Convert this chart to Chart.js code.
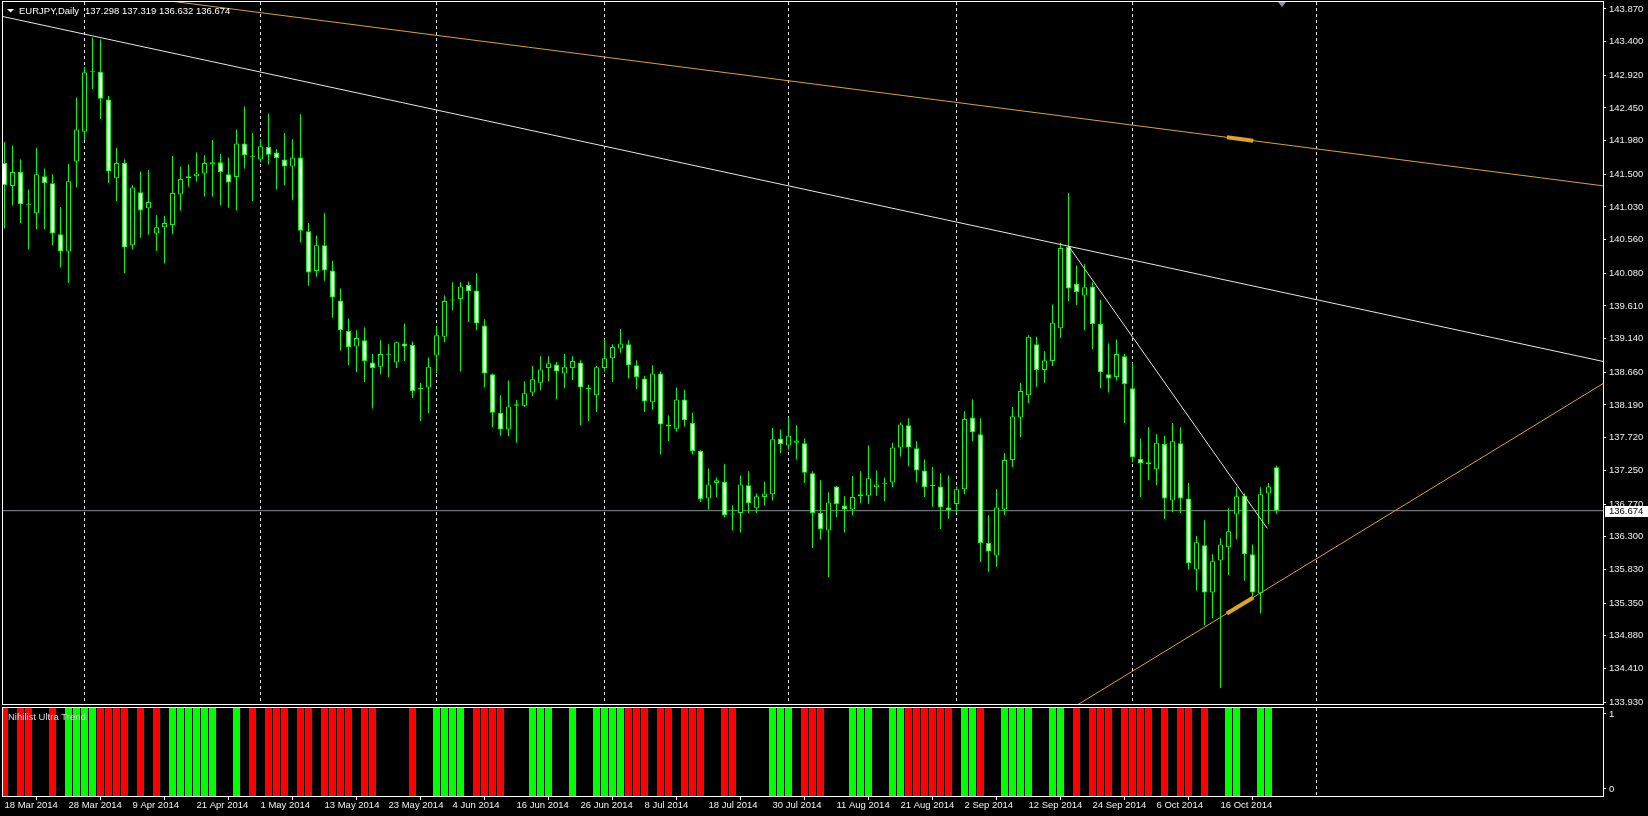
<!DOCTYPE html>
<html>
<head>
<meta charset="utf-8">
<title>EURJPY,Daily</title>
<script src="https://cdn.jsdelivr.net/npm/chart.js@4.4.1/dist/chart.umd.min.js"></script>
<style>
  html, body { margin: 0; padding: 0; background: #000; overflow: hidden; }
  #wrap { position: relative; width: 1648px; height: 816px; background: #000; }
  #main { position: absolute; left: 0; top: 0; }
  #pane { position: absolute; left: 0; top: 706px; }
</style>
</head>
<body>
<div id="wrap">
  <canvas id="main" width="1648" height="706"></canvas>
  <canvas id="pane" width="1648" height="110"></canvas>
</div>
<script>
const symbol = "EURJPY";
const period = "Daily";
const paneName = "Nihilist Ultra Trend";

// daily bars, first one is 18 Mar 2014
const opens = [
  141.66,141.33,141.53,141.07,140.94,141.47,141.37,140.64,140.39,141.68,
  142.11,142.98,142.97,142.57,141.44,141.66,140.48,141.24,141.01,140.65,
  140.74,140.77,141.21,141.44,141.47,141.51,141.64,141.67,141.50,141.46,
  141.94,141.76,141.71,141.89,141.81,141.71,141.61,141.74,140.68,140.11,
  140.48,140.12,139.69,139.25,139.03,139.12,138.80,138.74,138.91,138.80,
  139.07,139.05,138.42,138.44,138.90,139.17,139.69,139.71,139.91,139.83,
  139.33,138.63,138.08,137.84,138.18,138.18,138.37,138.51,138.72,138.77,
  138.64,138.72,138.80,138.43,138.33,138.72,138.86,139.00,139.06,138.76,
  138.57,138.23,138.64,137.91,137.85,138.27,137.93,137.53,136.85,137.07,
  137.09,136.63,136.64,137.04,136.71,136.87,136.91,137.71,137.61,137.65,
  137.64,137.21,136.64,136.39,137.02,136.75,136.69,136.88,136.89,137.01,
  137.06,137.08,137.58,137.90,137.57,137.25,137.03,137.02,136.72,136.77,
  136.98,138.01,137.77,136.21,136.03,136.69,137.40,138.01,138.33,139.06,
  138.69,138.82,139.29,140.46,139.93,139.76,139.89,139.35,138.63,138.59,
  138.89,138.43,137.42,137.34,137.27,137.63,136.82,137.64,136.85,135.83,
  136.18,135.50,135.96,136.15,136.62,136.89,136.05,135.49,136.92,137.298
];
const highs = [
  141.96,141.91,141.71,141.28,141.88,141.58,141.50,141.03,141.65,142.60,
  143.04,143.46,143.43,142.62,141.88,141.71,141.34,141.54,141.56,140.91,
  140.90,141.76,141.61,141.64,141.81,141.77,141.99,141.79,141.74,142.14,
  142.47,142.09,142.00,142.37,141.86,142.09,142.00,142.36,140.80,140.62,
  140.94,140.26,139.86,139.43,139.26,139.30,138.92,139.12,139.06,139.10,
  139.36,139.10,138.51,138.87,139.32,139.76,139.95,139.95,139.96,140.08,
  139.42,138.64,138.33,138.54,138.26,138.53,138.75,138.89,138.89,138.81,
  138.92,138.89,138.83,138.48,138.75,139.13,139.06,139.28,139.12,138.83,
  138.61,138.76,138.67,138.04,138.44,138.41,138.08,137.54,137.28,137.15,
  137.34,136.75,137.18,137.24,136.92,137.09,137.86,137.84,138.01,137.90,
  137.71,137.24,137.11,136.94,137.03,136.88,137.17,137.24,137.61,137.25,
  137.15,137.65,137.94,138.00,137.67,137.41,137.30,137.21,137.18,137.02,
  138.10,138.27,138.00,136.61,136.98,137.50,138.16,138.51,139.19,139.17,
  138.96,139.63,140.52,141.23,140.19,140.21,139.95,139.70,139.07,139.13,
  138.92,138.79,137.71,137.87,137.77,137.75,137.93,137.87,137.07,136.31,
  136.54,136.05,136.28,136.71,137.01,136.92,136.19,137.01,137.07,137.319
];
const lows = [
  140.72,141.05,140.80,140.42,140.71,140.71,140.48,140.16,139.94,141.31,
  141.99,142.72,142.29,141.37,141.11,140.08,140.42,140.59,140.63,140.40,
  140.22,140.64,140.98,141.32,141.39,141.18,141.18,141.05,141.02,140.98,
  141.58,141.11,141.67,141.64,141.28,141.34,141.13,140.52,139.90,140.03,
  139.97,139.44,138.97,138.76,138.66,138.52,138.14,138.63,138.59,138.72,
  138.82,138.29,137.96,138.07,138.64,139.09,139.55,138.67,139.38,139.26,
  138.44,137.87,137.75,137.74,137.65,138.16,138.32,138.40,138.53,138.27,
  138.43,138.55,137.90,137.96,138.09,138.67,138.52,138.94,138.57,138.42,
  138.09,138.12,137.48,137.67,137.81,137.88,137.48,136.80,136.69,136.87,
  136.58,136.39,136.36,136.64,136.64,136.75,136.82,137.50,137.55,137.41,
  137.07,136.14,136.26,135.72,136.58,136.36,136.61,136.78,136.77,136.89,
  136.81,137.01,137.45,137.31,137.08,136.87,136.73,136.41,136.56,136.64,
  136.91,137.67,135.94,135.80,135.87,136.61,137.30,137.73,138.22,138.45,
  138.51,138.75,139.15,139.68,139.62,139.26,138.99,138.43,138.37,138.54,
  137.93,137.37,136.87,137.11,137.04,136.55,136.65,136.64,135.83,135.53,
  135.03,135.13,134.13,135.75,136.26,135.67,135.45,135.20,136.48,136.632
];
const closes = [
  141.34,141.53,141.07,141.06,141.50,141.37,140.65,140.39,141.40,142.14,
  142.96,142.97,142.58,141.54,141.66,140.45,141.31,140.98,141.10,140.74,
  140.80,141.23,141.43,141.47,141.51,141.66,141.67,141.53,141.38,141.94,
  141.77,141.75,141.90,141.78,141.73,141.61,141.74,140.69,140.09,140.48,
  140.12,139.73,139.26,139.02,139.15,138.82,138.72,138.92,138.92,139.09,
  139.03,138.39,138.42,138.74,139.19,139.68,139.70,139.89,139.82,139.36,
  138.64,138.08,137.84,138.17,138.20,138.36,138.56,138.70,138.79,138.67,
  138.74,138.82,138.44,138.42,138.73,138.86,139.02,139.07,138.76,138.59,
  138.24,138.64,137.91,137.88,138.27,137.97,137.53,136.84,137.05,137.11,
  136.61,136.62,137.05,136.78,136.88,136.92,137.70,137.63,137.75,137.68,
  137.22,136.64,136.41,136.79,136.77,136.69,136.87,136.91,137.14,137.05,
  137.07,137.58,137.91,137.58,137.25,137.01,137.03,136.72,136.68,136.98,
  137.99,137.80,136.21,136.09,136.72,137.40,138.03,138.39,139.17,138.69,
  138.83,139.37,140.44,139.86,139.81,139.88,139.35,138.66,138.57,138.92,
  138.49,137.44,137.35,137.37,137.65,136.85,137.67,136.85,135.92,136.22,
  135.50,135.95,136.19,136.38,136.88,136.05,135.50,136.91,137.02,136.674
];
// indicator state per bar: 1 up, -1 down, 0 flat
const trend = [
  -1,0,-1,-1,0,0,-1,0,1,1,
  1,1,-1,-1,-1,-1,0,-1,0,-1,
  0,1,1,1,1,1,1,0,0,1,
  0,-1,0,-1,-1,-1,0,-1,-1,0,
  -1,-1,-1,-1,0,-1,-1,0,0,0,
  0,-1,0,0,1,1,1,1,0,-1,
  -1,-1,-1,0,0,0,1,1,1,0,
  0,1,0,0,1,1,1,1,-1,-1,
  -1,0,-1,-1,0,-1,-1,-1,0,0,
  -1,-1,0,0,0,0,1,1,1,0,
  -1,-1,-1,0,0,0,1,1,1,0,
  0,1,1,-1,-1,-1,-1,-1,-1,0,
  1,1,-1,0,0,1,1,1,1,0,
  0,1,1,0,-1,0,-1,-1,-1,0,
  -1,-1,-1,-1,0,-1,0,-1,-1,0,
  -1,0,0,1,1,0,0,1,1,0
];
const priceTicks = [143.87,143.40,142.92,142.45,141.98,141.50,141.03,140.56,140.08,139.61,139.14,
  138.66,138.19,137.72,137.25,136.77,136.30,135.83,135.35,134.88,134.41,133.93];
const paneTicks = [1, 0];

// trend lines as [bar, price] pairs
const resistance = [[-1, 143.78], [200, 138.81]];
const upperChannel = [[0, 144.29], [200, 141.33]];
const support = [[120, 132.90], [200, 138.51]];
const breakLine = [[133, 140.47], [157.85, 136.42]];
const upperMark = [[152.8, 142.03], [156.1, 141.98]];
const lowerMark = [[152.8, 135.20], [156.1, 135.43]];

const X_MIN = -0.1875, X_MAX = 199.8125;
const Y_MIN = 133.902, Y_MAX = 143.969;
const PANE_LO = -0.094, PANE_HI = 1.08;
const FONT = { family: "'Liberation Sans', Arial, sans-serif", size: 9.5 };
const TEXT = '#f0f0f0';
const LIME = '#00ff00';
const GOLD = '#daa520';

const monthNames = ['Jan','Feb','Mar','Apr','May','Jun','Jul','Aug','Sep','Oct','Nov','Dec'];
const dates = [];
let d = new Date(Date.UTC(2014, 2, 18));
while (dates.length < 200) {
  const wd = d.getUTCDay();
  if (wd !== 0 && wd !== 6) dates.push(new Date(d));
  d.setUTCDate(d.getUTCDate() + 1);
}
const fmt = dt => dt.getUTCDate() + ' ' + monthNames[dt.getUTCMonth()] + ' ' + dt.getUTCFullYear();
const lastBar = closes.length - 1;

const monthStarts = [];
for (let i = 1; i < dates.length; i++) {
  if (dates[i].getUTCMonth() !== dates[i - 1].getUTCMonth()) {
    monthStarts.push(i);
    if (i > lastBar) break;
  }
}
const labelBars = [];
for (let i = 0; i <= lastBar; i += 8) labelBars.push(i);

const pts = arr => arr.map(p => ({ x: p[0], y: p[1] }));
const line = (arr, color, width, order) => ({
  type: 'line', data: pts(arr), borderColor: color, borderWidth: width,
  pointRadius: 0, tension: 0, order: order
});

const monthGrid = {
  id: 'monthGrid',
  beforeDatasetsDraw(chart) {
    const { ctx, chartArea: a, scales: { x } } = chart;
    ctx.save();
    ctx.strokeStyle = '#e6e6e6';
    ctx.lineWidth = 1;
    ctx.setLineDash([3, 3]);
    monthStarts.forEach(i => {
      const px = Math.floor(x.getPixelForValue(i)) + 0.5;
      ctx.beginPath();
      ctx.moveTo(px, a.top);
      ctx.lineTo(px, a.bottom);
      ctx.stroke();
    });
    ctx.restore();
  }
};

const frame = {
  id: 'frame',
  afterDraw(chart) {
    const { ctx, chartArea: a } = chart;
    ctx.save();
    ctx.strokeStyle = '#ffffff';
    ctx.lineWidth = 1;
    ctx.strokeRect(a.left - 0.5, a.top - 0.5, a.right - a.left + 1, a.bottom - a.top + 1);
    ctx.restore();
  }
};

const header = {
  id: 'header',
  afterDraw(chart) {
    const { ctx, chartArea: a, scales: { x, y } } = chart;
    ctx.save();
    ctx.font = "9.5px 'Liberation Sans', Arial, sans-serif";
    ctx.fillStyle = '#ffffff';
    ctx.beginPath();
    ctx.moveTo(7, 9); ctx.lineTo(14, 9); ctx.lineTo(10.5, 12.5); ctx.closePath();
    ctx.fill();
    const name = symbol + ',' + period;
    ctx.textBaseline = 'alphabetic';
    ctx.fillText(name, 19, 14);
    const ohlc = [opens[lastBar], highs[lastBar], lows[lastBar], closes[lastBar]]
      .map(v => v.toFixed(3)).join(' ');
    ctx.fillText(ohlc, 19 + ctx.measureText(name).width + 6, 14);

    // chart shift marker
    const sx = x.getPixelForValue(lastBar) + 5.5;
    ctx.fillStyle = '#8d96a0';
    ctx.beginPath();
    ctx.moveTo(sx - 4, a.top); ctx.lineTo(sx + 4, a.top); ctx.lineTo(sx, a.top + 5); ctx.closePath();
    ctx.fill();

    // bid label
    const py = Math.round(y.getPixelForValue(closes[lastBar]));
    ctx.fillStyle = '#ffffff';
    ctx.fillRect(a.right + 2, py - 5, 43, 11);
    ctx.fillStyle = '#000000';
    ctx.textBaseline = 'middle';
    ctx.fillText(closes[lastBar].toFixed(3), a.right + 6, py + 0.5);
    ctx.restore();
  }
};

const paneTitle = {
  id: 'paneTitle',
  afterDraw(chart) {
    const { ctx } = chart;
    ctx.save();
    ctx.font = "9.5px 'Liberation Sans', Arial, sans-serif";
    ctx.fillStyle = '#dcdcdc';
    ctx.fillText(paneName, 8, 14);
    ctx.restore();
  }
};

const rightAxis = (min, max, ticks, fmtTick) => ({
  type: 'linear', position: 'right', min: min, max: max,
  afterBuildTicks: s => { s.ticks = ticks.map(v => ({ value: v })); },
  afterFit: s => { s.width = 45; s.paddingTop = 0; s.paddingBottom = 0; },
  ticks: { autoSkip: false, color: TEXT, font: FONT, padding: 3, callback: fmtTick },
  grid: { drawOnChartArea: false, drawTicks: true, tickLength: 3, color: '#ffffff' },
  border: { display: false }
});

const common = {
  responsive: false,
  animation: false,
  devicePixelRatio: 1,
  events: [],
  plugins: { legend: { display: false }, tooltip: { enabled: false } }
};

new Chart(document.getElementById('main'), {
  type: 'bar',
  data: {
    datasets: [
      line(upperMark, GOLD, 4, -3),
      line(lowerMark, GOLD, 4, -3),
      line(resistance, '#e6e6e6', 1, -2),
      line(breakLine, '#e6e6e6', 1, -2),
      line(upperChannel, GOLD, 1, -2),
      line(support, GOLD, 1, -2),
      {
        data: closes.map((c, i) => ({ x: i, y: [opens[i], c] })),
        backgroundColor: closes.map((c, i) => c < opens[i] ? '#ffffff' : '#000000'),
        borderColor: LIME, borderWidth: 1, borderSkipped: false,
        barThickness: 5, minBarLength: 1, inflateAmount: 0, grouped: false, order: 1
      },
      {
        data: lows.map((l, i) => ({ x: i, y: [l, highs[i]] })),
        backgroundColor: LIME, borderWidth: 0,
        barThickness: 1, inflateAmount: 0, grouped: false, order: 2
      },
      line([[X_MIN, closes[lastBar]], [X_MAX, closes[lastBar]]], '#8a9099', 1, 3)
    ]
  },
  options: Object.assign({}, common, {
    layout: { padding: { left: 3, top: 2, right: 0, bottom: 2 } },
    scales: {
      x: { type: 'linear', min: X_MIN, max: X_MAX, offset: false, display: false },
      y: rightAxis(Y_MIN, Y_MAX, priceTicks, v => v.toFixed(3))
    }
  }),
  plugins: [monthGrid, frame, header]
});

new Chart(document.getElementById('pane'), {
  type: 'bar',
  data: {
    datasets: [{
      data: trend.map((t, i) => ({ x: i, y: [PANE_LO, PANE_HI] })),
      backgroundColor: trend.map(t => t > 0 ? LIME : t < 0 ? '#ff0000' : '#000000'),
      borderWidth: 0, barThickness: 7, inflateAmount: 0, grouped: false
    }]
  },
  options: Object.assign({}, common, {
    layout: { padding: { left: 3, top: 2, right: 0, bottom: 0 } },
    scales: {
      x: {
        type: 'linear', position: 'bottom', min: X_MIN, max: X_MAX, offset: false,
        afterBuildTicks: s => { s.ticks = labelBars.map(v => ({ value: v })); },
        afterFit: s => { s.height = 20; s.paddingLeft = 0; s.paddingRight = 0; },
        ticks: {
          autoSkip: false, maxRotation: 0, align: 'start', color: TEXT, font: FONT,
          padding: 0, callback: v => fmt(dates[v])
        },
        grid: { drawOnChartArea: false, drawTicks: true, tickLength: 4, color: '#ffffff' },
        border: { display: false }
      },
      y: rightAxis(PANE_LO, PANE_HI, paneTicks, v => String(v))
    }
  }),
  plugins: [monthGrid, frame, paneTitle]
});
</script>
</body>
</html>
